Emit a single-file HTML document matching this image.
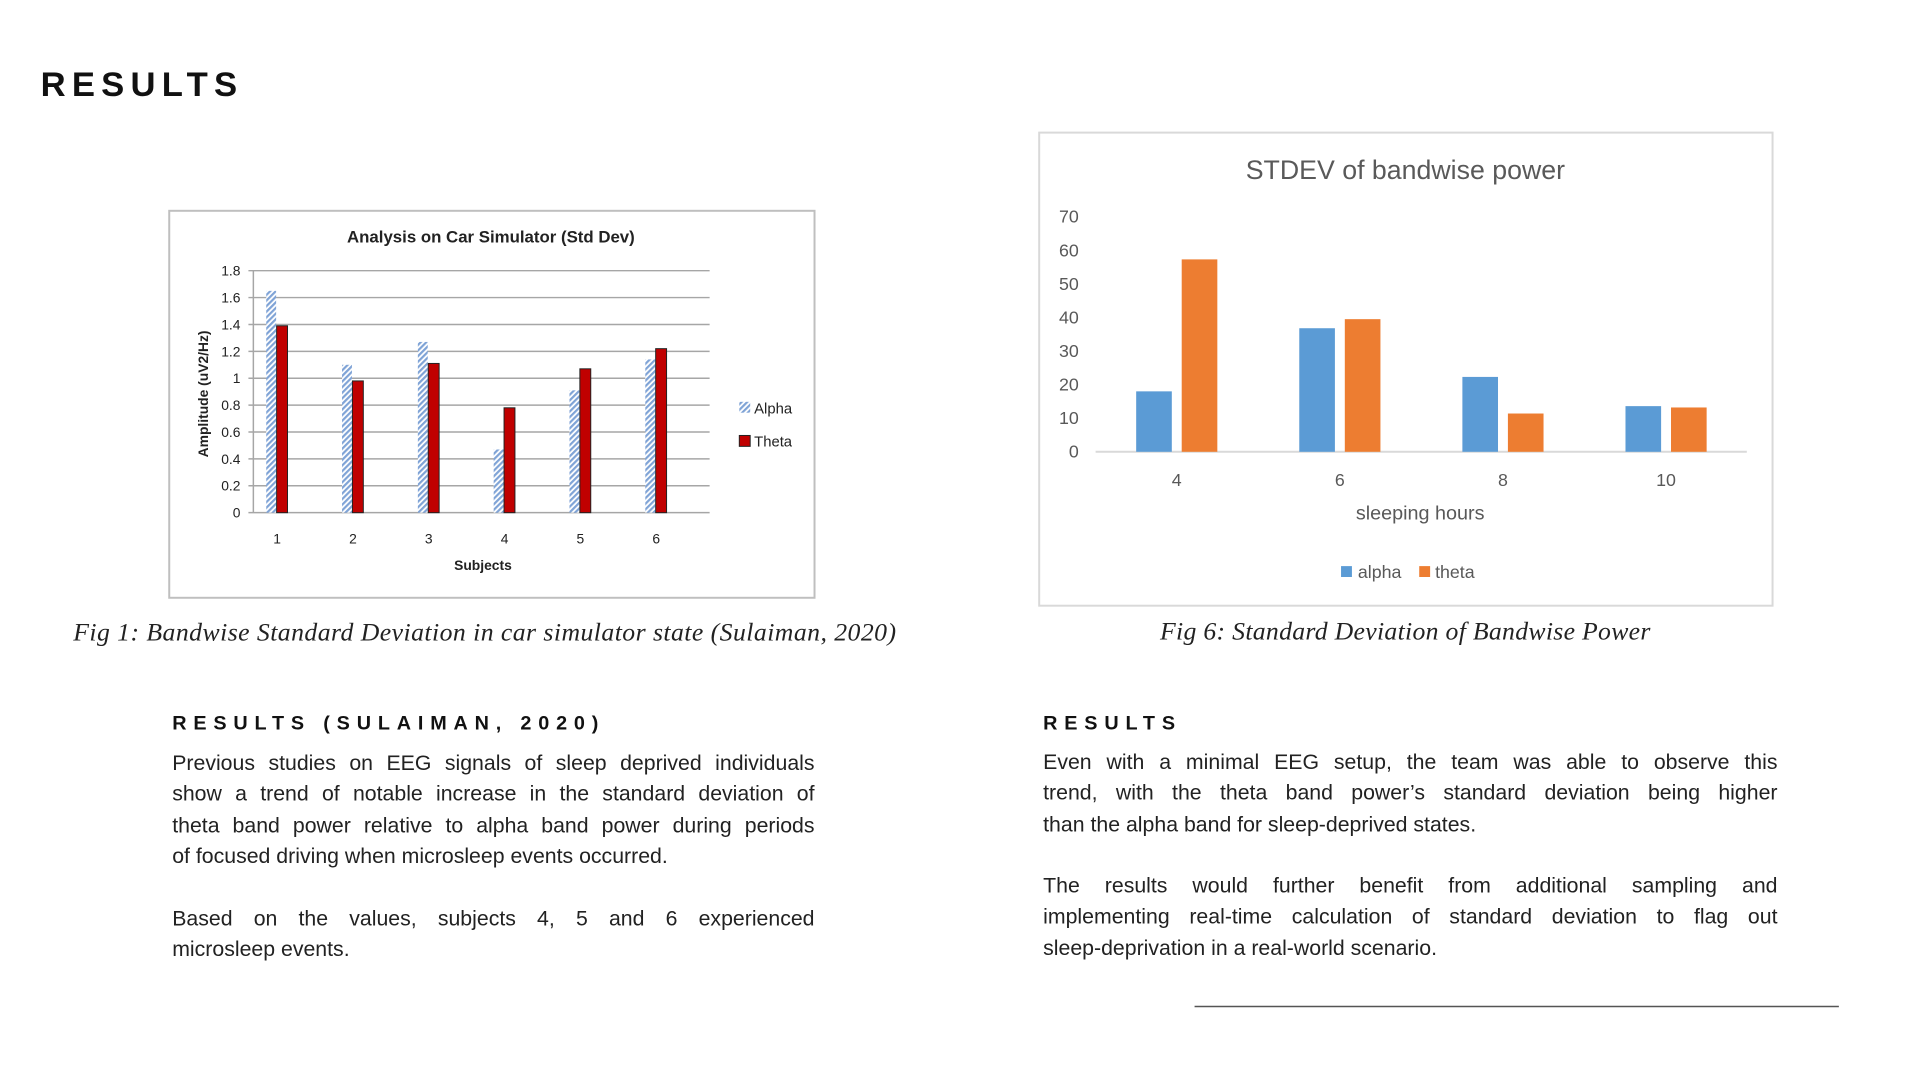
<!DOCTYPE html>
<html><head><meta charset="utf-8">
<style>
html,body{margin:0;padding:0;background:#fff;}
body{width:1917px;height:1073px;position:relative;overflow:hidden;font-family:"Liberation Sans",sans-serif;color:#111;}
#wrap{position:absolute;left:0;top:0;width:1917px;height:1073px;transform:scale(0.9897);transform-origin:0 0;}
.abs{position:absolute;}
.h1{left:41px;top:66px;font-size:35px;font-weight:bold;letter-spacing:6.3px;}
.h2{font-size:20px;font-weight:bold;letter-spacing:6.9px;}
.para{font-size:21.5px;line-height:31.3px;color:#222;}
.para div{text-align:justify;text-align-last:justify;white-space:nowrap;}
.para div.last{text-align-last:left;}
.cap{font-family:"Liberation Serif",serif;font-style:italic;font-size:26px;color:#222;white-space:nowrap;}
</style></head><body>
<div id="wrap">
<div class="abs h1">RESULTS</div>

<svg class="abs" style="left:0;top:0" width="1917" height="1073">
 <defs>
  <pattern id="hatch" width="4" height="4" patternUnits="userSpaceOnUse" patternTransform="rotate(45)">
   <rect width="4" height="4" fill="#fff"/><rect width="2.2" height="4" fill="#7fa3d6"/>
  </pattern>
 </defs>
 <rect x="171" y="213" width="652" height="391" fill="#fff" stroke="#bfbfbf" stroke-width="2"/>
 <g id="c1"></g>
 <rect x="1050" y="134" width="741" height="478" fill="#fff" stroke="#d9d9d9" stroke-width="2"/>
 <g id="c2"></g>
 <line x1="1207" y1="1017" x2="1858" y2="1017" stroke="#555" stroke-width="1.5"/>
</svg>

<div class="abs cap" style="left:74px;top:624px;letter-spacing:0.45px">Fig 1: Bandwise Standard Deviation in car simulator state (Sulaiman, 2020)</div>
<div class="abs cap" style="left:1420px;top:623px;transform:translateX(-50%);letter-spacing:0.3px">Fig 6: Standard Deviation of Bandwise Power</div>

<div class="abs h2" style="left:174px;top:720px">RESULTS (SULAIMAN, 2020)</div>
<div class="abs para" style="left:174px;top:756px;width:649px">
<div>Previous studies on EEG signals of sleep deprived individuals</div>
<div>show a trend of notable increase in the standard deviation of</div>
<div>theta band power relative to alpha band power during periods</div>
<div class="last">of focused driving when microsleep events occurred.</div>
</div>
<div class="abs para" style="left:174px;top:913px;width:649px">
<div>Based on the values, subjects 4, 5 and 6 experienced</div>
<div class="last">microsleep events.</div>
</div>

<div class="abs h2" style="left:1054px;top:720px">RESULTS</div>
<div class="abs para" style="left:1054px;top:755px;width:742px">
<div>Even with a minimal EEG setup, the team was able to observe this</div>
<div>trend, with the theta band power’s standard deviation being higher</div>
<div class="last">than the alpha band for sleep-deprived states.</div>
</div>
<div class="abs para" style="left:1054px;top:880px;width:742px">
<div>The results would further benefit from additional sampling and</div>
<div>implementing real-time calculation of standard deviation to flag out</div>
<div class="last">sleep-deprivation in a real-world scenario.</div>
</div>
</div>

<script>
const c1Cats=["1","2","3","4","5","6"];
const c1Alpha=[1.65,1.1,1.27,0.47,0.91,1.14];
const c1Theta=[1.39,0.98,1.11,0.78,1.07,1.22];
const c1Ticks=[0,0.2,0.4,0.6,0.8,1,1.2,1.4,1.6,1.8];
const c2Cats=["4","6","8","10"];
const c2Alpha=[18,36.8,22.3,13.6];
const c2Theta=[57.3,39.5,11.4,13.2];
const c2Ticks=[0,10,20,30,40,50,60,70];
const NS="http://www.w3.org/2000/svg";
function mk(p,tag,a,txt){const e=document.createElementNS(NS,tag);for(const k in a)e.setAttribute(k,a[k]);if(txt!==undefined)e.textContent=txt;p.appendChild(e);return e;}

// Chart 1
(function(){
 const g=document.getElementById('c1');
 const x0=256,x1=717,y0=518,yTop=273.5,max=1.8;
 const y=v=>y0-(v/max)*(y0-yTop);
 const cx=i=>280+i*76.6;
 let t=mk(g,'text',{x:496,y:245,'text-anchor':'middle','font-size':17,'font-weight':'bold',fill:'#222'},'Analysis on Car Simulator (Std Dev)');
 
 c1Ticks.forEach(v=>{
  const l=mk(g,'line',{x1:x0-5,x2:x1,y1:y(v),y2:y(v),stroke:'#a6a6a6','stroke-width':1.5});
  
  const tl=mk(g,'text',{x:243,y:y(v)+5,'text-anchor':'end','font-size':14,fill:'#222'},String(v));
  
 });
 mk(g,'line',{x1:x0,x2:x0,y1:yTop,y2:y0,stroke:'#a6a6a6','stroke-width':1.5});
 c1Cats.forEach((c,i)=>{
  const a=mk(g,'rect',{x:cx(i)-11,y:y(c1Alpha[i]),width:10,height:y0-y(c1Alpha[i]),fill:'url(#hatch)'});
  
  const b=mk(g,'rect',{x:cx(i)-0.5,y:y(c1Theta[i]),width:11,height:y0-y(c1Theta[i]),fill:'#c00000',stroke:'#222','stroke-width':1});
  
  const tl=mk(g,'text',{x:cx(i),y:549,'text-anchor':'middle','font-size':14,fill:'#222'},c);
  
 });
 t=mk(g,'text',{x:488,y:576,'text-anchor':'middle','font-size':14,'font-weight':'bold',fill:'#222'},'Subjects');
 
 t=mk(g,'text',{x:0,y:0,transform:'translate(210,398) rotate(-90)','text-anchor':'middle','font-size':14,'font-weight':'bold',fill:'#222'},'Amplitude (uV2/Hz)');
 
 let r=mk(g,'rect',{x:747,y:406,width:11,height:11,fill:'url(#hatch)'});
 
 t=mk(g,'text',{x:762,y:418,'font-size':15,fill:'#222'},'Alpha');
 
 r=mk(g,'rect',{x:747,y:440,width:11,height:11,fill:'#c00000',stroke:'#222'});
 
 t=mk(g,'text',{x:762,y:451,'font-size':15,fill:'#222'},'Theta');
 
})();

// Chart 2
(function(){
 const g=document.getElementById('c2');
 const x0=1107,x1=1765,y0=456.5,yTop=219,max=70;
 const y=v=>y0-(v/max)*(y0-yTop);
 const cx=i=>1189+i*164.8;
 let t=mk(g,'text',{x:1420,y:181,'text-anchor':'middle','font-size':27,fill:'#595959'},'STDEV of bandwise power');
 
 c2Ticks.forEach(v=>{
  const tl=mk(g,'text',{x:1090,y:y(v)+6,'text-anchor':'end','font-size':18,fill:'#595959'},String(v));
  
 });
 mk(g,'line',{x1:x0,x2:x1,y1:y0,y2:y0,stroke:'#d9d9d9','stroke-width':2});
 c2Cats.forEach((c,i)=>{
  const a=mk(g,'rect',{x:cx(i)-41,y:y(c2Alpha[i]),width:36,height:y0-y(c2Alpha[i]),fill:'#5b9bd5'});
  
  const b=mk(g,'rect',{x:cx(i)+5,y:y(c2Theta[i]),width:36,height:y0-y(c2Theta[i]),fill:'#ed7d31'});
  
  const tl=mk(g,'text',{x:cx(i),y:491,'text-anchor':'middle','font-size':18,fill:'#595959'},c);
  
 });
 t=mk(g,'text',{x:1435,y:525,'text-anchor':'middle','font-size':20,fill:'#595959'},'sleeping hours');
 
 let r=mk(g,'rect',{x:1355,y:572,width:11,height:11,fill:'#5b9bd5'});
 
 t=mk(g,'text',{x:1372,y:584,'font-size':18,fill:'#595959'},'alpha');
 
 r=mk(g,'rect',{x:1434,y:572,width:11,height:11,fill:'#ed7d31'});
 
 t=mk(g,'text',{x:1450,y:584,'font-size':18,fill:'#595959'},'theta');
 
})();
</script>
</body></html>
